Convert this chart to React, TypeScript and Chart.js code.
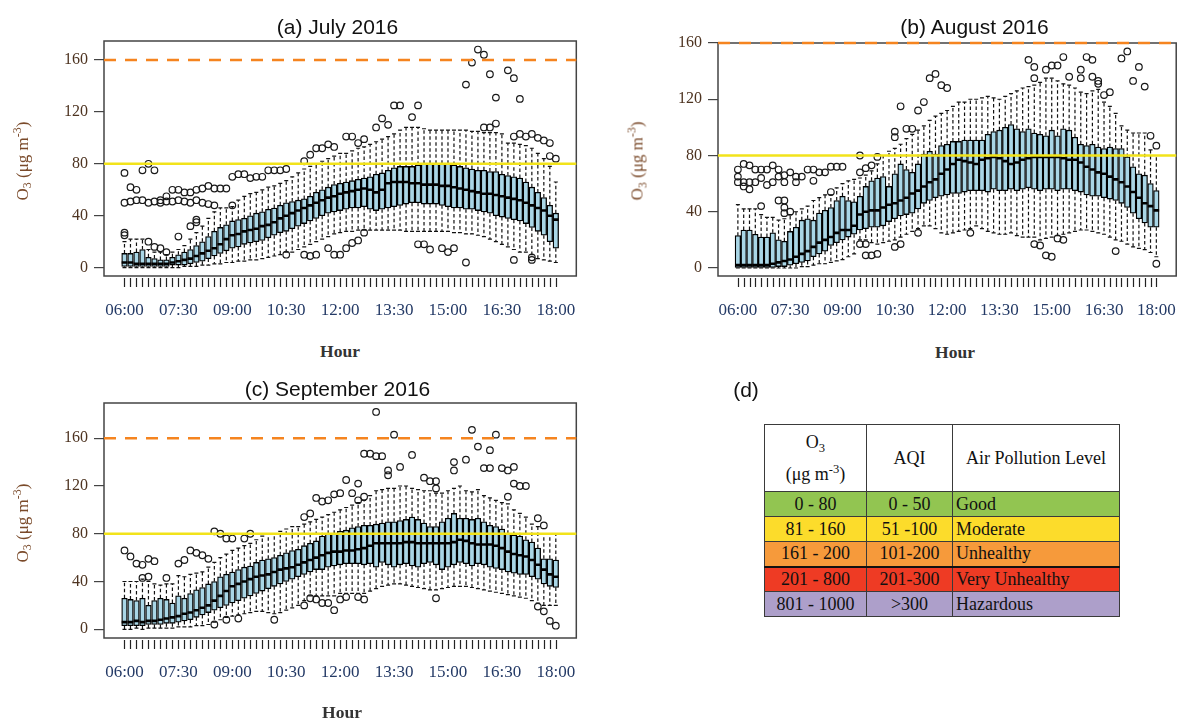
import React, { useEffect, useRef } from "react";
import { Chart, registerables } from "chart.js";
Chart.register(...registerables);

const SERIF = '"Liberation Serif", "Times New Roman", serif';
const SANS = '"Liberation Sans", Arial, sans-serif';

const xTickLabels = ["06:00", "07:30", "09:00", "10:30", "12:00", "13:30", "15:00", "16:30", "18:00"];
const labelEvery = 9;
const yTicks = [0, 40, 80, 120, 160];
const goodLimit = 80;
const moderateLimit = 160;

// ---------- (a) July 2016 ----------
const julyMed = [4,4,3,3,3,3,3,3,4, 5,6,7,9,11,13,15,18,22, 25,26,28,29,30,32,33,35,38, 40,42,44,46,48,50,52,54,55, 57,58,59,60,61,60,58,60,65, 66,66,66,65,65,64,64,64,63, 63,62,61,60,59,58,57,57,56, 55,54,53,52,50,48,46,44,40,37];
const julyQ1 = [1,1,1,1,1,1,1,1,2, 2,2,3,4,5,7,9,11,13, 15,16,18,19,20,21,23,25,27, 28,30,32,34,36,38,40,42,43, 44,45,46,46,47,45,44,45,46, 47,48,49,50,50,49,49,49,48, 47,46,46,45,45,44,43,42,40, 39,38,37,36,34,31,28,25,20,15];
const julyQ3 = [11,11,12,14,8,7,6,6,8, 10,12,14,17,20,24,28,31,33, 36,37,38,40,42,43,45,46,48, 50,51,52,53,55,58,60,62,64, 65,66,67,68,69,70,72,73,75, 77,78,78,78,79,80,80,80,80, 80,79,78,77,76,75,75,74,74, 72,71,70,69,66,62,58,54,48,42];
const julyHi = [20,22,22,22,14,12,12,10,12, 14,17,22,27,32,38,43,46,46, 47,52,55,57,58,60,62,63,65, 67,70,73,76,78,80,82,84,86, 88,88,90,92,93,95,97,99,101, 103,106,108,108,108,107,106,106,106, 106,106,106,106,105,105,104,104,104, 103,96,96,95,94,92,88,84,78,66];
const julyLo = [0,0,0,0,0,0,0,0,0, 0,1,1,1,2,2,3,3,4, 4,5,5,6,6,7,8,9,10, 12,12,14,16,18,20,22,24,26, 27,28,28,29,29,29,29,29,29, 29,29,28,28,28,28,28,28,28, 28,27,27,26,26,25,24,22,20, 18,16,14,12,12,10,7,6,5,4];
const julyOut = [
  [0,73],[0,50],[0,27],[0,25],[1,62],[1,51],[2,60],[2,52],[3,75],[3,52],[4,80],[5,75],
  [4,20],[5,16],[6,15],[7,12],
  [4,50],[5,51],[6,50],[7,51],[8,51],[9,52],[10,51],[11,50],[12,52],[13,50],[14,49],[15,48],
  [6,52],[7,55],[8,60],[9,60],[10,58],[11,58],[12,60],[13,61],[14,63],[15,61],[16,61],[17,61],
  [9,24],[11,32],[12,37],[12,35],
  [18,48],[18,70],[19,72],[20,72],[21,69],[22,70],[23,70],[24,75],[25,75],[26,75],[27,76],
  [27,10],[30,10],[31,9],[32,10],
  [30,82],[31,87],[32,92],[33,92],[34,95],[35,93],
  [34,15],[35,10],[36,10],[37,15],[38,19],[39,21],[40,27],
  [37,101],[38,101],[39,96],[40,99],
  [42,108],[43,115],[44,110],[45,125],[46,125],[48,116],[49,125],
  [49,18],[50,18],[51,14],[53,15],[54,12],[55,15],
  [57,141],[58,158],[59,168],[60,164],[61,149],[62,131],[64,152],[65,146],[66,130],[57,4],
  [60,108],[61,108],[62,111],
  [65,101],[66,103],[67,101],[68,103],[69,100],[70,98],[71,96],[71,86],[72,84],
  [65,6],[68,8],[68,6]
];

// ---------- (b) August 2016 ----------
const augMed = [2,2,2,2,2,2,3,4,5, 6,8,10,12,15,18,20,22,25, 27,27,30,38,40,41,41,43,45, 46,48,50,53,55,58,61,63,67, 70,74,77,76,75,74,77,78,79, 78,76,74,75,77,78,79,79,79, 79,79,78,77,77,75,72,70,68, 67,65,63,61,58,54,50,46,44,41];
const augQ1 = [0,0,0,0,0,0,0,1,1, 2,3,4,5,8,10,12,16,18, 20,22,24,27,28,29,29,30,33, 35,37,38,39,42,46,48,50,51, 52,53,53,54,55,55,55,54,56, 55,55,56,55,56,57,56,55,56, 56,55,56,56,55,54,52,51,51, 50,49,48,46,43,39,35,32,29,29];
const augQ3 = [23,27,27,24,22,22,25,20,19, 26,29,34,35,34,39,41,43,48, 51,48,47,51,58,62,64,65,58, 67,74,70,68,74,81,83,81,87, 88,90,90,91,91,91,91,95,97, 98,100,102,99,97,99,96,95,94, 98,94,99,98,93,88,87,88,86, 85,86,85,85,79,72,67,66,60,55];
const augHi = [45,42,42,42,38,36,36,34,35, 38,40,42,44,48,50,52,52,57, 60,62,63,64,66,69,74,80,83, 85,88,92,95,98,101,105,108,110, 112,115,118,118,120,120,121,122,121, 120,122,124,126,128,129,130,132,135, 135,133,131,130,128,125,124,126,127, 118,115,110,101,98,96,96,96,84,80];
const augLo = [0,0,0,0,0,0,0,0,0, 0,0,1,1,2,3,3,4,5, 6,8,10,20,20,18,17,18,19, 20,22,24,26,28,30,30,28,25, 24,25,26,27,28,30,28,26,25, 24,24,25,23,22,22,22,20,21, 22,23,24,25,26,27,27,26,25, 24,22,20,19,17,15,14,13,11,8];
const augOut = [
  [0,70],[0,65],[0,61],[1,74],[1,61],[1,58],[2,73],[2,61],[2,56],[3,70],[3,61],[4,70],[4,64],[5,70],[5,59],
  [6,73],[6,61],[7,70],[7,65],[8,66],[8,61],[9,68],[10,65],[10,61],[11,65],[12,70],[13,70],[13,62],[14,68],
  [15,68],[16,72],[17,72],[18,72],
  [4,44],[7,48],[8,48],[8,43],[8,39],[9,40],[16,54],
  [21,80],[21,68],[22,71],[23,73],[24,79],
  [21,17],[22,9],[22,17],[23,9],[24,10],[27,15],[28,17],
  [27,97],[27,93],[28,115],[29,99],[30,99],[31,112],[32,118],[33,135],[34,138],[35,130],[36,128],
  [31,25],[40,25],
  [50,148],[51,143],[51,135],[53,141],[54,144],[55,144],[56,150],[57,136],[59,141],[59,135],[60,150],
  [61,148],[61,136],[62,133],[62,131],[63,123],[64,125],[66,149],[67,154],[68,133],[69,143],[70,129],
  [71,94],[72,87],
  [51,17],[52,16],[53,9],[54,8],[55,21],[56,20],[65,12],[72,3]
];

// ---------- (c) September 2016 ----------
const sepMed = [6,6,7,6,7,7,8,9,10, 11,13,14,16,18,20,24,28,32, 36,38,40,42,44,45,46,48,50, 51,52,54,56,58,60,62,64,65, 65,66,66,67,68,70,72,72,72, 72,72,73,73,72,72,72,72,72, 72,73,75,74,72,71,71,71,70, 68,65,63,62,61,58,54,50,46,44];
const sepQ1 = [3,3,3,3,4,4,4,5,5, 6,7,8,10,12,14,16,18,20, 22,24,26,28,30,32,34,36,38, 40,42,44,46,48,50,50,52,53, 54,55,55,55,54,55,52,56,54, 52,54,55,53,52,55,56,54,50, 52,54,56,55,53,55,54,52,51, 50,48,47,46,46,44,42,38,36,35];
const sepQ3 = [26,25,24,26,20,24,26,25,22, 28,26,30,33,35,38,40,44,46, 48,50,52,53,56,58,59,60,62, 64,66,67,70,72,74,78,80,80, 82,83,85,86,87,87,88,89,90, 90,91,92,94,92,89,86,86,90, 93,97,93,93,92,93,90,87,86, 84,80,79,78,75,73,68,59,59,58];
const sepHi = [40,40,40,42,40,38,37,38,38, 45,44,46,47,48,52,56,60,63, 66,68,70,72,75,78,80,80,82, 84,86,86,88,90,92,94,96,98, 100,102,104,106,108,112,116,117,118, 118,120,120,118,117,116,116,114,114, 116,118,120,116,115,117,112,110,108, 106,105,100,97,94,88,86,80,80,80];
const sepLo = [0,0,1,0,1,1,1,1,1, 2,2,2,3,3,4,6,8,10, 11,12,13,14,15,15,14,13,14, 16,18,20,24,28,28,28,28,28, 30,30,30,30,30,32,34,36,37, 38,38,37,36,35,34,33,33,34, 35,36,36,36,35,34,33,32,31, 30,29,28,27,26,24,22,20,20,20];
const sepOut = [
  [0,66],[1,61],[2,55],[3,54],[4,59],[5,57],[3,43],[4,44],[7,43],
  [9,55],[10,58],[11,66],[12,64],[13,62],[14,59],
  [15,82],[16,80],[17,76],[18,76],[20,76],[21,80],
  [15,4],[17,8],[19,9],[25,8],
  [30,94],[31,97],[32,110],[33,107],[34,108],[35,113],[36,114],[37,125],[38,114],[39,122],[39,108],
  [40,111],[40,147],[41,147],[42,145],[42,182],[43,145],[44,129],[44,133],[45,163],[46,136],[48,146],
  [50,127],[51,124],[52,124],[52,118],[55,140],[55,133],[57,142],[58,167],[59,153],[60,135],[61,150],
  [61,135],[62,163],[63,135],[64,133],[64,111],[65,136],[65,122],[66,120],[67,120],[69,93],[70,87],
  [30,20],[31,26],[32,25],[33,22],[34,22],[35,16],[36,25],[37,27],[39,27],[40,25],
  [52,26],[69,19],[70,15],[71,7],[72,3]
];

// ---------- (d) table ----------
const o3Ranges = ["0 - 80", "81 - 160", "161 - 200", "201 - 800", "801 - 1000"];
const aqiRanges = ["0 - 50", "51 -100", "101-200", "201-300", ">300"];
const levelNames = ["Good", "Moderate", "Unhealthy", "Very Unhealthy", "Hazardous"];
const levelColors = ["#92c551", "#fcdc2b", "#f69a3b", "#ee3b24", "#ad9fca"];

type Stats = { med: number[]; q1: number[]; q3: number[]; lo: number[]; hi: number[]; out: number[][] };

type PanelProps = {
  stats: Stats;
  left: number; top: number; width: number; height: number;
  padTop: number; padRight: number; yAxisW: number; xAxisH: number;
  ymin: number; ymax: number;
};

function BoxPanel(p: PanelProps) {
  const ref = useRef<HTMLCanvasElement>(null);
  useEffect(() => {
    if (!ref.current) return;
    const st = p.stats;
    const n = st.med.length;
    const xmin = -0.5 - 0.04 * n;
    const xmax = n - 0.5 + 0.04 * n;
    const boxData = st.q1.map((v, i) => ({ x: i, y: [v, st.q3[i]] }));
    const outData = st.out.map(([i, v]) => ({ x: i, y: v }));

    const plugin = {
      id: "boxExtras",
      beforeDatasetsDraw(chart: any) {
        const { ctx, chartArea: a, scales } = chart;
        const xs = scales.x, ys = scales.y;
        ctx.save();
        ctx.strokeStyle = "#111";
        ctx.lineWidth = 1.2;
        for (let i = 0; i < n; i++) {
          const px = xs.getPixelForValue(i);
          const yq1 = ys.getPixelForValue(st.q1[i]);
          const yq3 = ys.getPixelForValue(st.q3[i]);
          const yhi = ys.getPixelForValue(st.hi[i]);
          const ylo = ys.getPixelForValue(st.lo[i]);
          ctx.setLineDash([3.5, 2.5]);
          ctx.beginPath();
          ctx.moveTo(px, yq3); ctx.lineTo(px, yhi);
          ctx.moveTo(px, yq1); ctx.lineTo(px, ylo);
          ctx.stroke();
          ctx.setLineDash([]);
          ctx.beginPath();
          ctx.moveTo(px - 2, yhi); ctx.lineTo(px + 2, yhi);
          ctx.moveTo(px - 2, ylo); ctx.lineTo(px + 2, ylo);
          ctx.stroke();
        }
        ctx.strokeStyle = "#444";
        ctx.lineWidth = 1.5;
        ctx.strokeRect(a.left, a.top, a.right - a.left, a.bottom - a.top);
        ctx.restore();
      },
      afterDatasetDraw(chart: any, args: any) {
        if (args.index !== 0) return;
        const { ctx, scales } = chart;
        const xs = scales.x, ys = scales.y;
        ctx.save();
        ctx.strokeStyle = "#000";
        ctx.lineWidth = 2.6;
        ctx.beginPath();
        for (let i = 0; i < n; i++) {
          const px = xs.getPixelForValue(i);
          const ym = ys.getPixelForValue(st.med[i]);
          ctx.moveTo(px - 2.8, ym); ctx.lineTo(px + 2.8, ym);
        }
        ctx.stroke();
        ctx.restore();
      },
      afterDraw(chart: any) {
        const { ctx, chartArea: a, scales } = chart;
        const xs = scales.x;
        ctx.save();
        ctx.strokeStyle = "#222";
        ctx.lineWidth = 1.2;
        ctx.beginPath();
        for (let i = 0; i < n; i++) {
          const px = Math.round(xs.getPixelForValue(i)) + 0.5;
          ctx.moveTo(px, a.bottom + 2); ctx.lineTo(px, a.bottom + 11);
        }
        ctx.stroke();
        ctx.restore();
      },
    };

    const chart = new Chart(ref.current, {
      type: "bar",
      data: {
        datasets: [
          {
            type: "bar", data: boxData as any, backgroundColor: "#a9d6e6", borderColor: "#000",
            borderWidth: 1.3, borderSkipped: false, barThickness: 5.6, order: 4,
          } as any,
          {
            type: "scatter", data: outData, pointRadius: 3.3, pointStyle: "circle",
            pointBorderColor: "#1a1a1a", pointBackgroundColor: "rgba(0,0,0,0)", pointBorderWidth: 1.2, order: 3,
          } as any,
          {
            type: "line", data: [{ x: xmin, y: goodLimit }, { x: xmax, y: goodLimit }],
            borderColor: "#f2e31a", borderWidth: 2.5, pointRadius: 0, clip: false, order: 2,
          } as any,
          {
            type: "line", data: [{ x: xmin, y: moderateLimit }, { x: xmax, y: moderateLimit }],
            borderColor: "#f5841f", borderWidth: 2.5, borderDash: [12, 9], pointRadius: 0, clip: false, order: 1,
          } as any,
        ],
      },
      options: {
        responsive: false,
        animation: false,
        events: [],
        layout: { padding: { top: p.padTop, right: p.padRight, left: 0, bottom: 0 } },
        plugins: { legend: { display: false }, tooltip: { enabled: false }, title: { display: false } },
        scales: {
          x: {
            type: "linear", min: xmin, max: xmax, offset: false,
            afterBuildTicks: (s: any) => { s.ticks = st.med.map((_, i) => ({ value: i })); },
            afterFit: (s: any) => { s.height = p.xAxisH; },
            ticks: {
              autoSkip: false, maxRotation: 0, minRotation: 0, padding: 24, color: "#243a66",
              font: { family: SERIF, size: 17 },
              callback: (v: any) => { const k = Number(v); return k % labelEvery === 0 ? xTickLabels[k / labelEvery] : ""; },
            },
            grid: { display: false, drawTicks: false, offset: false },
            border: { display: false },
          },
          y: {
            type: "linear", min: p.ymin, max: p.ymax,
            afterBuildTicks: (s: any) => { s.ticks = yTicks.map((v) => ({ value: v })); },
            afterFit: (s: any) => { s.width = p.yAxisW; },
            ticks: { padding: 6, color: "#4d3320", font: { family: SERIF, size: 16 } },
            grid: { display: true, drawOnChartArea: false, drawTicks: true, tickLength: 10, color: "#444", lineWidth: 1.2 },
            border: { display: false },
          },
        },
      } as any,
      plugins: [plugin as any],
    });
    return () => chart.destroy();
  }, []);
  return (
    <canvas ref={ref} width={p.width} height={p.height}
      style={{ position: "absolute", left: p.left, top: p.top, width: p.width, height: p.height }} />
  );
}

function Txt(props: { x: number; base: number; size: number; family: string; color?: string; bold?: boolean; children: any }) {
  return (
    <div style={{
      position: "absolute", left: props.x, top: props.base - 0.845 * props.size, transform: "translateX(-50%)",
      fontFamily: props.family, fontSize: props.size, lineHeight: 1, whiteSpace: "nowrap",
      color: props.color || "#111", fontWeight: props.bold ? "bold" : "normal",
    }}>{props.children}</div>
  );
}

function YTitle({ cx, cy }: { cx: number; cy: number }) {
  return (
    <div style={{
      position: "absolute", left: cx, top: cy, transform: "translate(-50%,-50%) rotate(-90deg)",
      fontFamily: SERIF, fontSize: 17, color: "#7a4a2a", whiteSpace: "nowrap", lineHeight: 1,
    }}>
      O<sub style={{ fontSize: "0.7em", verticalAlign: "-0.3em", lineHeight: 0 }}>3</sub> (μg m<sup style={{ fontSize: "0.7em", verticalAlign: "0.55em", lineHeight: 0 }}>-3</sup>)
    </div>
  );
}

const cellBase: any = { border: "1px solid #3a3a3a", padding: 0, verticalAlign: "middle", overflow: "hidden", whiteSpace: "nowrap" };

export default function App() {
  const july: Stats = { med: julyMed, q1: julyQ1, q3: julyQ3, lo: julyLo, hi: julyHi, out: julyOut };
  const aug: Stats = { med: augMed, q1: augQ1, q3: augQ3, lo: augLo, hi: augHi, out: augOut };
  const sep: Stats = { med: sepMed, q1: sepQ1, q3: sepQ3, lo: sepLo, hi: sepHi, out: sepOut };
  return (
    <div style={{ position: "fixed", left: 0, top: 0, width: 1193, height: 722, background: "#fff", overflow: "hidden" }}>
      <BoxPanel stats={july} left={0} top={0} width={600} height={340} padTop={41} padRight={19}
        yAxisW={104} xAxisH={64} ymin={-6.4} ymax={174.6} />
      <BoxPanel stats={aug} left={600} top={0} width={600} height={340} padTop={43} padRight={7}
        yAxisW={118} xAxisH={64} ymin={-5.7} ymax={160} />
      <BoxPanel stats={sep} left={0} top={370} width={600} height={352} padTop={33} padRight={19}
        yAxisW={104} xAxisH={84} ymin={-7.3} ymax={189.5} />

      <Txt x={337.5} base={33.5} size={21} family={SANS}>(a) July 2016</Txt>
      <Txt x={974.5} base={33.5} size={21} family={SANS}>(b) August 2016</Txt>
      <Txt x={337.5} base={396} size={21} family={SANS}>(c) September 2016</Txt>
      <Txt x={746} base={396.5} size={21} family={SANS}>(d)</Txt>

      <Txt x={340} base={358} size={17.5} family={SERIF} bold color="#333">Hour</Txt>
      <Txt x={955} base={359} size={17.5} family={SERIF} bold color="#333">Hour</Txt>
      <Txt x={342} base={719} size={17.5} family={SERIF} bold color="#333">Hour</Txt>

      <YTitle cx={22} cy={161} />
      <YTitle cx={637} cy={161} />
      <YTitle cx={22} cy={523} />

      <table style={{
        position: "absolute", left: 764, top: 424, width: 355, borderCollapse: "collapse", tableLayout: "fixed",
        fontFamily: SERIF, fontSize: 18, color: "#111",
      }}>
        <colgroup>
          <col style={{ width: 102 }} />
          <col style={{ width: 86 }} />
          <col style={{ width: 167 }} />
        </colgroup>
        <tbody>
          <tr style={{ height: 67, background: "#fff" }}>
            <td style={{ ...cellBase, textAlign: "center", lineHeight: "32px" }}>
              O<sub style={{ fontSize: "0.7em", verticalAlign: "-0.3em", lineHeight: 0 }}>3</sub><br />
              (μg m<sup style={{ fontSize: "0.7em", verticalAlign: "0.55em", lineHeight: 0 }}>-3</sup>)
            </td>
            <td style={{ ...cellBase, textAlign: "center" }}>AQI</td>
            <td style={{ ...cellBase, textAlign: "center" }}>Air Pollution Level</td>
          </tr>
          {levelNames.map((name, i) => (
            <tr key={name} style={{ height: 25, background: levelColors[i] }}>
              <td style={{ ...cellBase, textAlign: "center", borderTop: i === 3 ? "2px solid #111" : cellBase.border }}>{o3Ranges[i]}</td>
              <td style={{ ...cellBase, textAlign: "center", borderTop: i === 3 ? "2px solid #111" : cellBase.border }}>{aqiRanges[i]}</td>
              <td style={{ ...cellBase, textAlign: "left", paddingLeft: 3, borderTop: i === 3 ? "2px solid #111" : cellBase.border }}>{name}</td>
            </tr>
          ))}
        </tbody>
      </table>
    </div>
  );
}
